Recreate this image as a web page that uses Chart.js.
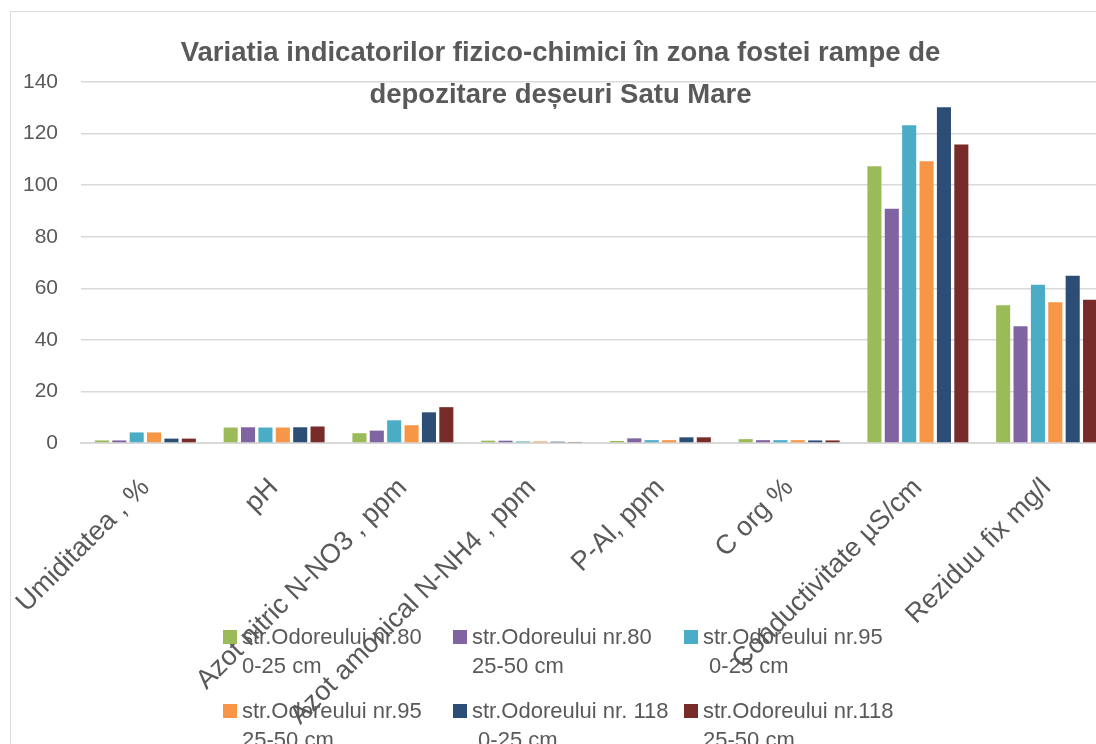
<!DOCTYPE html>
<html>
<head>
<meta charset="utf-8">
<script src="https://cdn.jsdelivr.net/npm/chart.js@4/dist/chart.umd.min.js"></script>
<style>
html, body { margin: 0; padding: 0; overflow: hidden; background: #fff; }
#frame { position: absolute; left: 10px; top: 11px; width: 1200px; height: 800px; border: 1px solid #d9d9d9; }
#wrap { position: absolute; left: 0; top: 0; width: 1111px; height: 744px; }
#titlu { position: absolute; left: 60px; width: 1001px; top: 31px; text-align: center;
  font: bold 27.5px "Liberation Sans", Arial, sans-serif; line-height: 42px; color: #595959; }
.leg { position: absolute; font: 22px "Liberation Sans", Arial, sans-serif; line-height: 29px; color: #595959; white-space: pre; }
.mk { position: absolute; width: 14px; height: 14px; }
</style>
</head>
<body>
<div id="frame"></div>
<div id="wrap"><canvas id="grafic" width="1111" height="744"></canvas></div>
<div id="titlu">Variatia indicatorilor fizico-chimici în zona fostei rampe de<br>depozitare deșeuri Satu Mare</div>
<div id="legenda"></div>
<script>
var categorii = ['Umiditatea , %', 'pH', 'Azot nitric N-NO3 , ppm', 'Azot amonical N-NH4 , ppm', 'P-Al, ppm', 'C org %', 'Conductivitate µS/cm', 'Reziduu fix mg/l'];

var nr80_0_25   = [1.0, 6.0, 3.8, 0.9, 0.8, 1.5, 107.3, 53.4];
var nr80_25_50  = [1.0, 6.1, 4.8, 0.9, 1.8, 1.1, 90.8, 45.3];
var nr95_0_25   = [4.1, 6.0, 8.8, 0.6, 1.1, 1.1, 123.2, 61.4];
var nr95_25_50  = [4.1, 6.0, 6.9, 0.6, 1.1, 1.1, 109.3, 54.6];
var nr118_0_25  = [1.7, 6.1, 11.9, 0.5, 2.2, 1.0, 130.2, 64.9];
var nr118_25_50 = [1.7, 6.4, 13.9, 0.4, 2.2, 1.0, 115.8, 55.6];

var etichete = ['str.Odoreului nr.80\n0-25 cm', 'str.Odoreului nr.80\n25-50 cm', 'str.Odoreului nr.95\n 0-25 cm',
  'str.Odoreului nr.95\n25-50 cm', 'str.Odoreului nr. 118\n 0-25 cm', 'str.Odoreului nr.118\n25-50 cm'];
var culori = ['#9bbb59', '#8064a2', '#4bacc6', '#f79646', '#2c4d75', '#772c2a'];
var yTicks = [0, 20, 40, 60, 80, 100, 120, 140];

var serii = [nr80_0_25, nr80_25_50, nr95_0_25, nr95_25_50, nr118_0_25, nr118_25_50];
var datasets = [];
serii.forEach(function (s, i) {
    datasets.push({
        label: etichete[i],
        data: s,
        backgroundColor: culori[i],
        categoryPercentage: 0.81,
        barPercentage: 0.81
    });
});

var font = '"Liberation Sans", Arial, sans-serif';

var myChart = new Chart(document.getElementById('grafic'), {
    type: 'bar',
    data: { labels: categorii, datasets: datasets },
    options: {
        responsive: false,
        animation: false,
        layout: { padding: { top: 82, left: 0, right: 0, bottom: 0 } },
        plugins: { legend: { display: false }, title: { display: false }, tooltip: { enabled: false } },
        scales: {
            x: {
                grid: { display: false, drawTicks: false },
                border: { display: true, color: '#d9d9d9', width: 2 },
                ticks: { autoSkip: false, minRotation: 45, maxRotation: 45, padding: 29, color: '#595959', font: { family: font, size: 27 } },
                afterFit: function (s) {
                    s.height = 301;
                    s.paddingLeft = 0;
                    s.paddingRight = 0;
                }
            },
            y: {
                min: 0, max: 140,
                afterBuildTicks: function (s) { s.ticks = yTicks.map(function (v) { return { value: v }; }); },
                grid: { color: '#d9d9d9', lineWidth: 1.5, drawTicks: false },
                border: { display: false },
                ticks: { padding: 23, color: '#595959', font: { family: font, size: 21 } },
                afterFit: function (s) { s.width = 81; }
            }
        }
    }
});

// legenda in 3 coloane, 2 randuri
var colX = [223, 453, 684];
var rowY = [630, 704];
var $leg = document.getElementById('legenda');
etichete.forEach(function (t, i) {
    var x = colX[i % 3], y = rowY[Math.floor(i / 3)];
    var mk = document.createElement('div');
    mk.className = 'mk';
    mk.style.left = x + 'px';
    mk.style.top = y + 'px';
    mk.style.background = culori[i];
    $leg.appendChild(mk);
    var tx = document.createElement('div');
    tx.className = 'leg';
    tx.style.left = (x + 19) + 'px';
    tx.style.top = (y - 8) + 'px';
    tx.textContent = t;
    $leg.appendChild(tx);
});
</script>
</body>
</html>
